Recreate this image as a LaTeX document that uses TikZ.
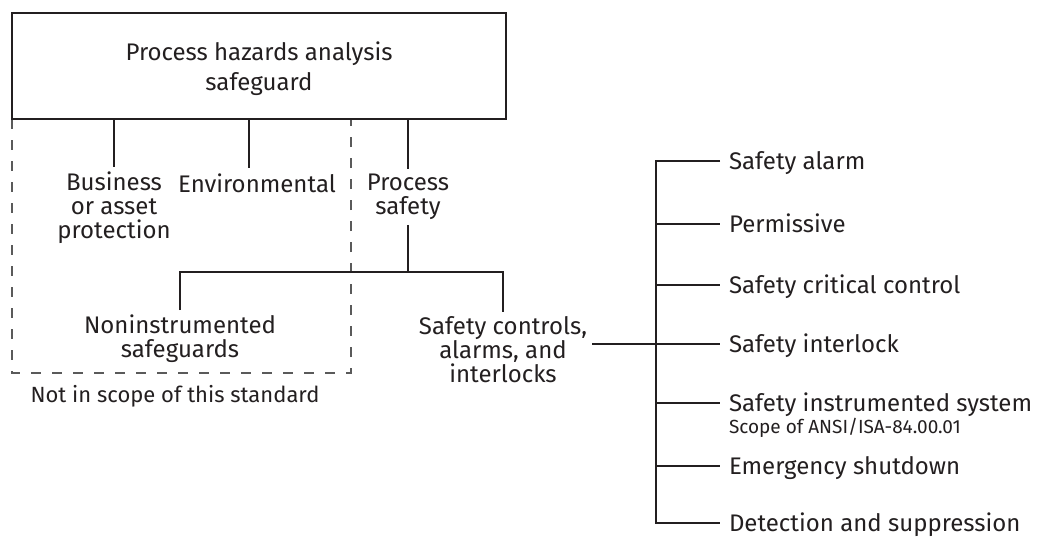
\documentclass[tikz,border=0pt]{standalone}
\usepackage{fontspec}
\setmainfont{Fira Sans}
\definecolor{ink}{HTML}{231F20}
\definecolor{scopegray}{HTML}{5A5A5A}
\tikzset{
	lbl/.style={font=\fontsize{24}{24}\selectfont, align=center, inner sep=0pt, outer sep=5pt, text=ink},
	tip/.style={font=\fontsize{24}{24}\selectfont, anchor=west, inner sep=0pt, outer sep=9pt, text height=19pt, text depth=3pt, text=ink},
	link/.style={draw=ink, line width=2.2pt},
	notscope/.style={draw=scopegray, line width=2pt, dash pattern=on 10pt off 11pt},
}
\begin{document}
\begin{tikzpicture}[x=1pt,y=-1pt]
			\useasboundingbox (0,0) rectangle (1039,538);
			\draw[notscope] (12,119) -- (12,373) -- (351,373) -- (351,119);
			\draw (259,66) node[draw=ink, line width=2.6pt, minimum width=494pt, minimum height=106pt, inner sep=0pt, align=center, text depth=0pt, text=ink, font=\fontsize{24}{30}\selectfont] (pha) {Process hazards analysis\\safeguard};
			\draw (114,208) node[lbl] (biz) {Business\\or asset\\protection};
			\draw (257,183) node[lbl] (env) {Environmental};
			\draw (408,197) node[lbl] (ps) {Process\\safety};
			\draw (180,339) node[lbl] (nis) {Noninstrumented\\safeguards};
			\draw (503,350) node[lbl] (sca) {Safety controls,\\alarms, and\\interlocks};
			\draw (175,396) node[lbl, font=\fontsize{22}{24}\selectfont] (note) {Not in scope of this standard};
			\draw[link] (biz.north |- pha.south) -- (biz.north);
			\draw[link] ([xshift=-8pt]env.north |- pha.south) -- ([xshift=-8pt]env.north);
			\draw[link] (ps.north |- pha.south) -- (ps.north);
			\coordinate (fork) at (ps.south |- 0,272);
			\draw[link] (ps.south) -- (fork);
			\draw[link] (nis.north) -- (nis.north |- fork) -- (sca.north |- fork) -- (sca.north);
			\coordinate (hub) at (656,344);
			\coordinate (railtop) at (656,161);
			\coordinate (railbot) at (656,523);
			\draw[link] (sca.east |- hub) -- (hub);
			\draw (720,161) node[tip] (alarm) {Safety alarm};
			\draw (720,224) node[tip] (perm) {Permissive};
			\draw (720,285) node[tip] (crit) {Safety critical control};
			\draw (720,344) node[tip] (lock) {Safety interlock};
			\draw (720,403) node[tip] (sis) {Safety instrumented system};
			\draw (720,428) node[tip, font=\fontsize{19}{22}\selectfont, text height=14pt, text depth=4pt] (sisnote) {Scope of ANSI/ISA-84.00.01};
			\draw (720,466) node[tip] (esd) {Emergency shutdown};
			\draw (720,523) node[tip] (fire) {Detection and suppression};
			\draw[link] (alarm.west) -- (railtop) -- (railbot) -- (fire.west);
			\draw[link] (perm.west -| hub) -- (perm.west);
			\draw[link] (crit.west -| hub) -- (crit.west);
			\draw[link] (lock.west -| hub) -- (lock.west);
			\draw[link] (sis.west -| hub) -- (sis.west);
			\draw[link] (esd.west -| hub) -- (esd.west);
		\end{tikzpicture}
\end{document}
